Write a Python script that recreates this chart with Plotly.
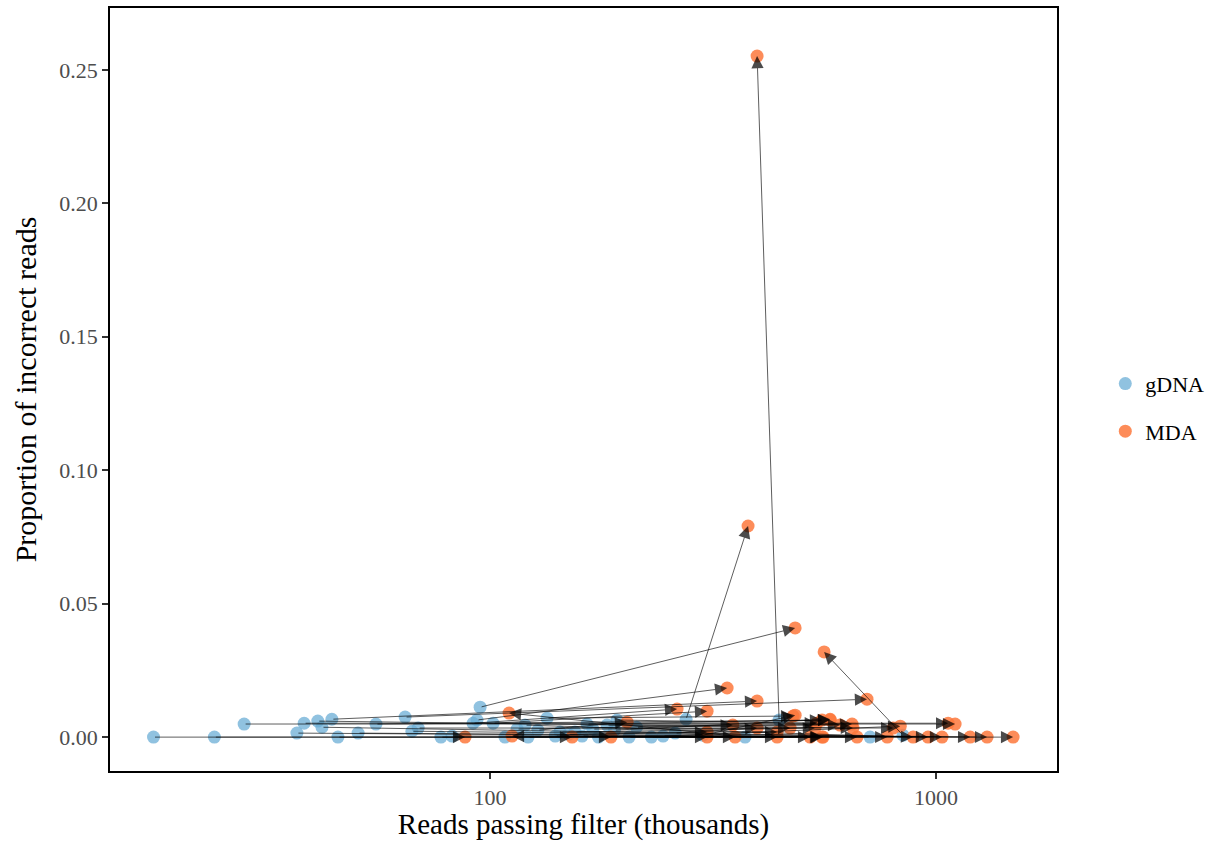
import numpy as np
import plotly.graph_objects as go

# Paired samples: each gDNA library and its MDA-amplified counterpart
gdna_reads = [17.6, 24.1, 28.1, 36.9, 38.3, 41.1, 42.0, 44.2, 45.6, 50.6,
              55.5, 64.5, 66.8, 69.0, 77.6, 82.2, 91.6, 93.5, 95.0, 101.6,
              108.0, 119.8, 121.7, 134.2, 143.5, 160.8, 182.9, 192.6, 244.3, 275.1,
              444.6, 843.0, 711.0, 373.0, 128.0, 170.0, 155.0, 175.0, 213.0, 115.0,
              150.0, 140.0, 230.0, 190.0, 165.0, 205.0, 260.0, 300.0]
gdna_prop = [0.0, 0.0, 0.0049, 0.0015, 0.0052, 0.0060, 0.0037, 0.0067, 0.0, 0.0015,
             0.0049, 0.0075, 0.0022, 0.0034, 0.0, 0.0004, 0.0052, 0.0064, 0.0112, 0.0052,
             0.0, 0.0045, 0.0, 0.0071, 0.0019, 0.0004, 0.0045, 0.0064, 0.0004, 0.0067,
             0.0064, 0.0007, 0.0, 0.0, 0.0026, 0.0030, 0.0019, 0.0, 0.0037, 0.0030,
             0.0010, 0.0004, 0.0, 0.0026, 0.0049, 0.0, 0.0015, 0.0007]

mda_reads = [87.9, 555.0, 1103.0, 777.0, 1064.0, 651.0, 959.0, 396.9, 1488.0, 1192.0,
             578.6, 700.0, 1301.0, 801.0, 152.7, 521.8, 262.6, 340.0, 483.0, 306.6,
             186.7, 888.0, 354.2, 478.0, 440.1, 1031.0, 609.0, 540.0, 831.0, 378.8,
             396.9, 561.0, 112.0, 110.3, 202.9, 470.6, 535.0, 558.0, 648.0, 350.0,
             306.6, 440.1, 665.0, 578.6, 555.0, 306.6, 396.9, 483.0]
mda_prop = [0.0, 0.0, 0.0049, 0.0, 0.0052, 0.0034, 0.0, 0.0135, 0.0, 0.0,
            0.0064, 0.0142, 0.0, 0.0034, 0.0, 0.0, 0.0105, 0.0184, 0.0409, 0.0097,
            0.0, 0.0, 0.0, 0.0079, 0.0019, 0.0, 0.0045, 0.0052, 0.0041, 0.0791,
            0.2552, 0.0319, 0.0004, 0.0090, 0.0056, 0.0034, 0.0034, 0.0, 0.0049, 0.0045,
            0.0019, 0.0, 0.0, 0.0067, 0.0064, 0.0, 0.0034, 0.0082]

sample_types = ["gDNA", "MDA"]
type_colors = {"gDNA": "rgba(107,174,214,0.75)", "MDA": "rgba(253,120,60,0.85)"}

x_tick_vals = [100, 1000]
x_tick_text = ["100", "1000"]
y_tick_vals = [0.0, 0.05, 0.10, 0.15, 0.20, 0.25]
y_tick_text = ["0.00", "0.05", "0.10", "0.15", "0.20", "0.25"]

FONT = "Liberation Serif, Times New Roman, serif"

fig = go.Figure()
series = {"gDNA": (gdna_reads, gdna_prop), "MDA": (mda_reads, mda_prop)}
for name in sample_types:
    xs, ys = series[name]
    fig.add_trace(go.Scatter(
        x=xs, y=ys, mode="markers", name=name, legendgroup=name,
        marker=dict(size=13, color=type_colors[name], line=dict(width=0)),
    ))

# Arrows from each gDNA library to its MDA pair
for gx, gy, mx, my in zip(gdna_reads, gdna_prop, mda_reads, mda_prop):
    fig.add_annotation(
        x=np.log10(mx), y=my, ax=np.log10(gx), ay=gy,
        xref="x", yref="y", axref="x", ayref="y",
        text="", showarrow=True, arrowhead=2, arrowsize=2.7,
        arrowwidth=0.9, arrowcolor="rgba(0,0,0,0.7)", standoff=0,
    )

axis_common = dict(
    showline=True, mirror=True, linecolor="black", linewidth=1.5,
    ticks="outside", ticklen=6, tickwidth=1.5, tickcolor="#333333",
    showgrid=False, zeroline=False, automargin=False,
    tickfont=dict(family=FONT, size=22, color="#4d4d4d"),
)

fig.update_xaxes(
    type="log", range=[1.148, 3.271],
    tickvals=x_tick_vals, ticktext=x_tick_text,
    title=dict(text="Reads passing filter (thousands)",
               font=dict(family=FONT, size=29, color="black"), standoff=8),
    **axis_common,
)
fig.update_yaxes(
    range=[-0.0127, 0.2732],
    tickvals=y_tick_vals, ticktext=y_tick_text,
    title=dict(text="Proportion of incorrect reads",
               font=dict(family=FONT, size=30, color="black"), standoff=14),
    **axis_common,
)

fig.update_layout(
    width=1223, height=841,
    margin=dict(l=110, r=166, t=8, b=70),
    plot_bgcolor="white", paper_bgcolor="white",
    font=dict(family=FONT, color="black"),
    legend=dict(
        x=1.051, xanchor="left", y=0.476, yanchor="middle",
        font=dict(family=FONT, size=22, color="black"),
        tracegroupgap=16, bgcolor="rgba(0,0,0,0)",
    ),
)

fig.write_html("out.html")
